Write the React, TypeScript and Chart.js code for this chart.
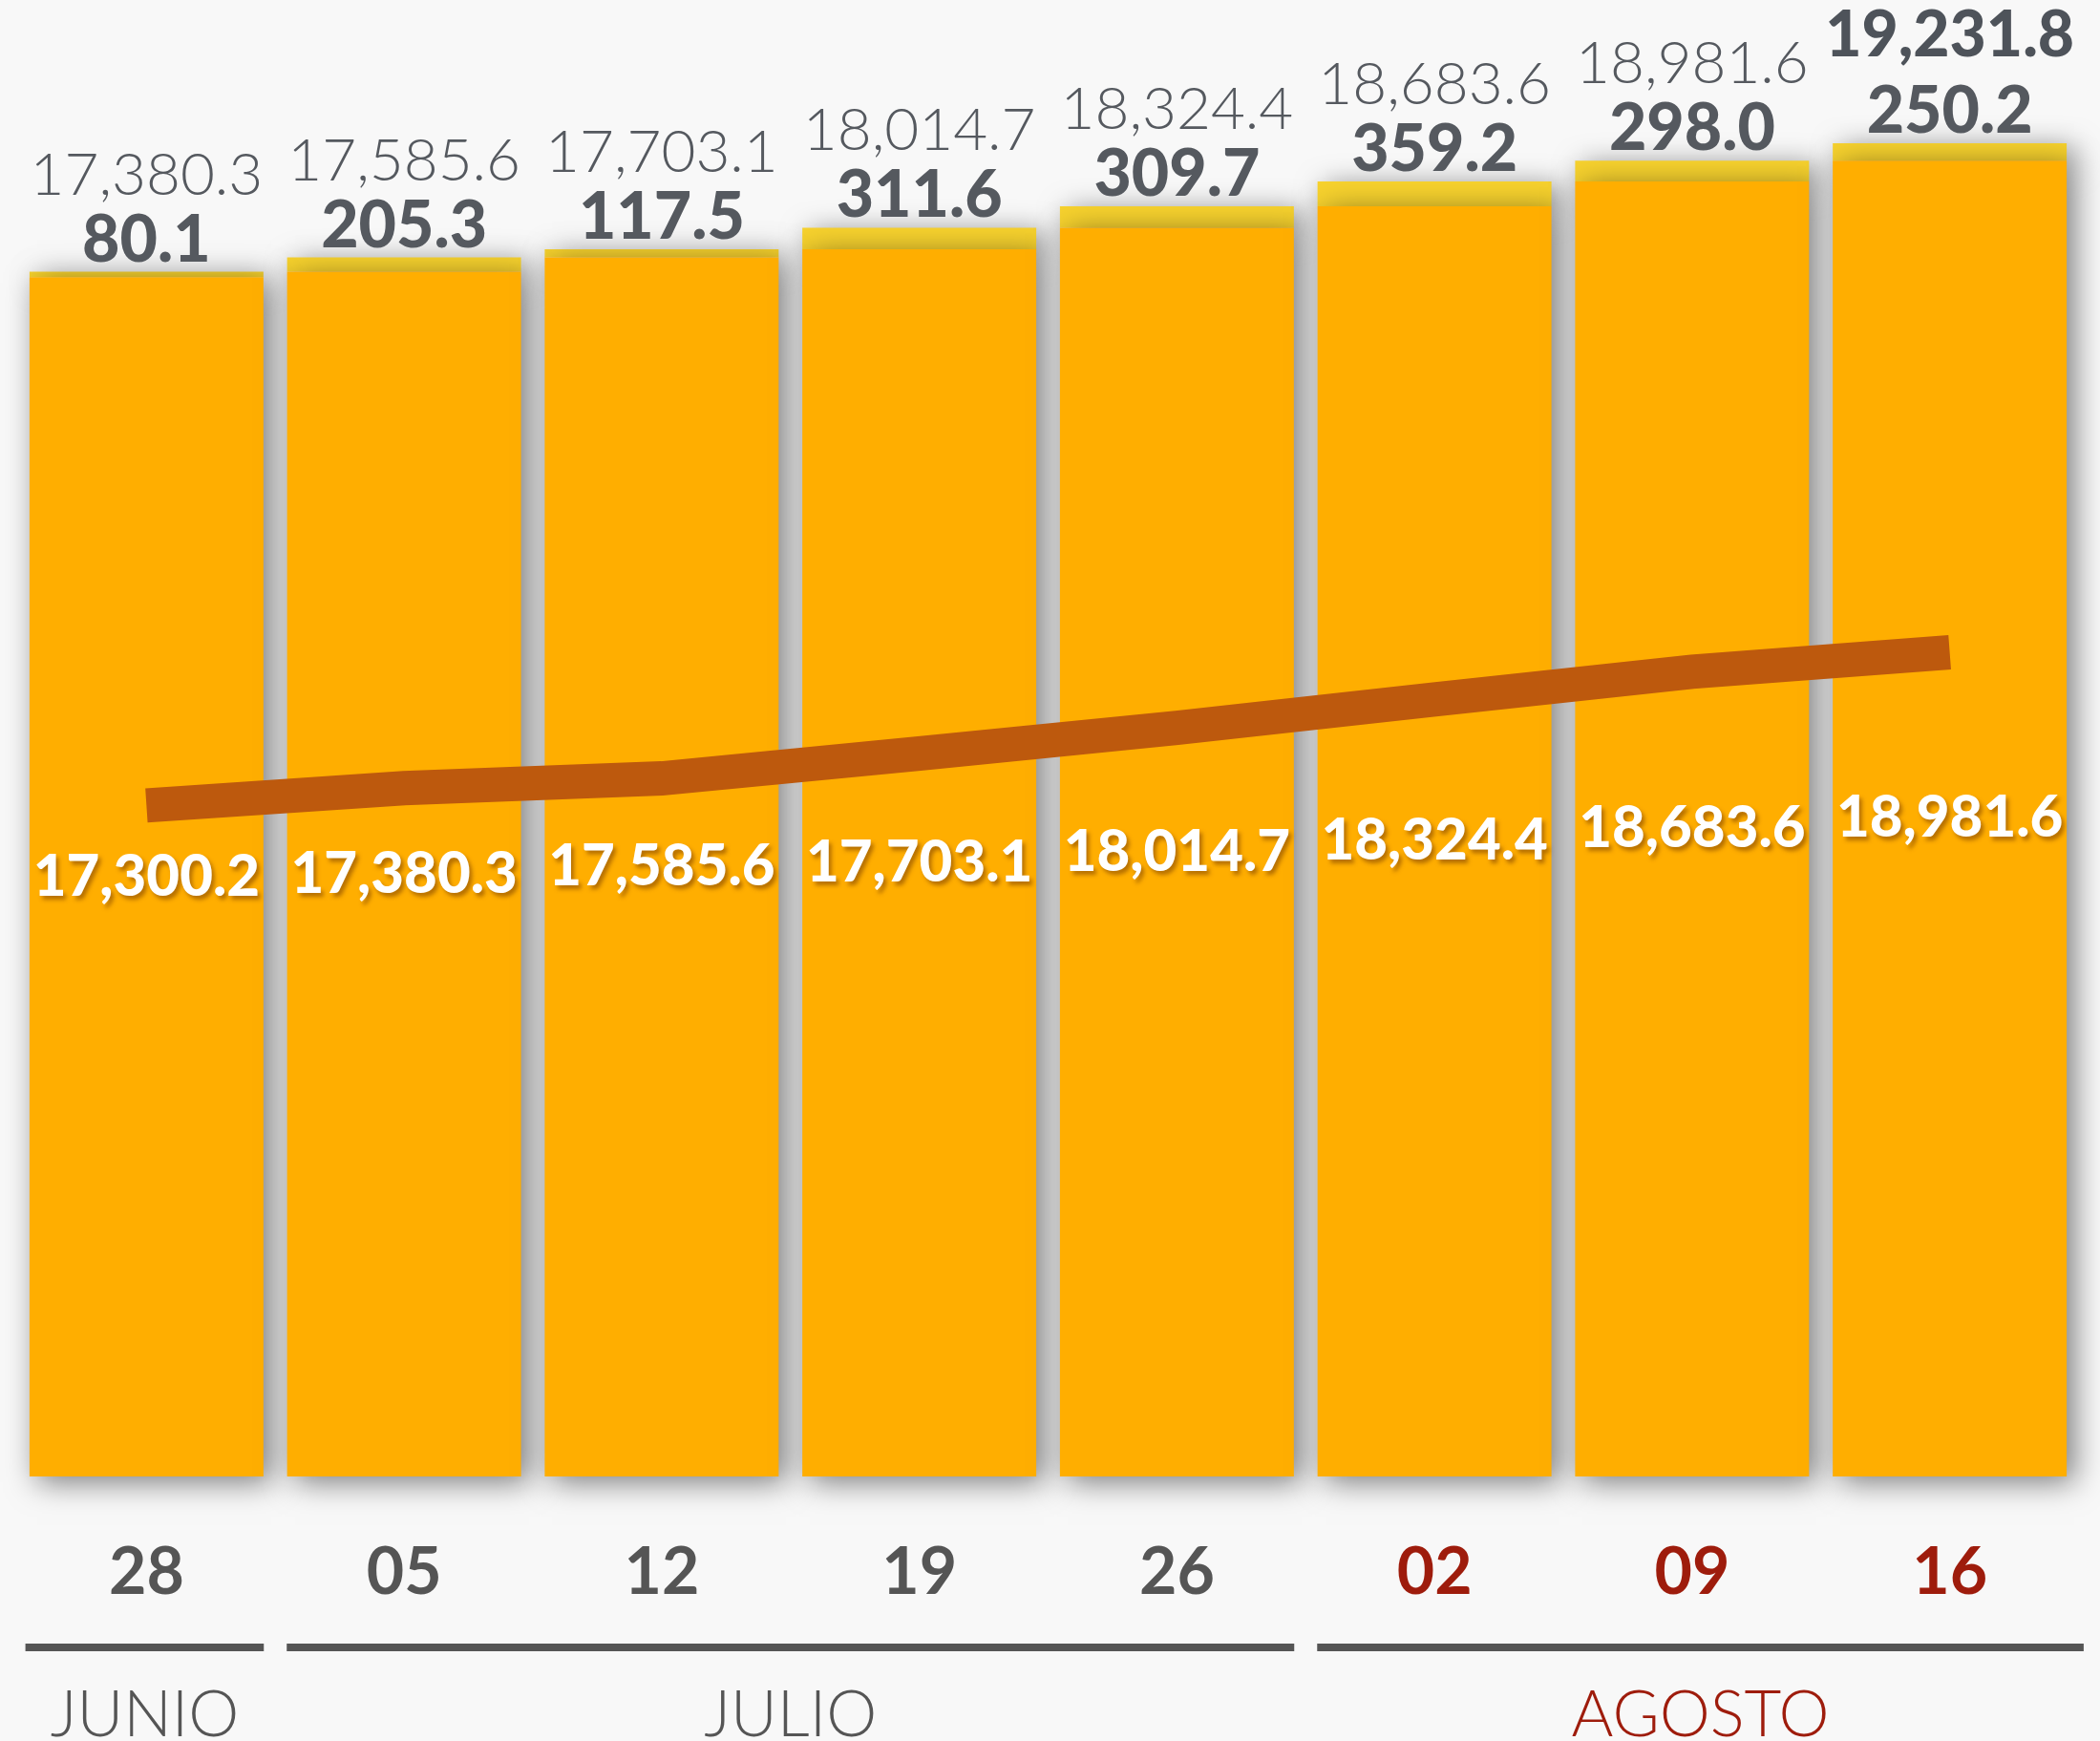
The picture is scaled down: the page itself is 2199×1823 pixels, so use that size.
import { useEffect, useRef } from 'react';
import { Chart, registerables } from 'chart.js';

Chart.register(...registerables);

// ---- data ----
const days = ['28', '05', '12', '19', '26', '02', '09', '16'];
const baseValues = [17300.2, 17380.3, 17585.6, 17703.1, 18014.7, 18324.4, 18683.6, 18981.6];
const increments = [80.1, 205.3, 117.5, 311.6, 309.7, 359.2, 298.0, 250.2];
const lineValues = [9680, 9930, 10070, 10430, 10800, 11210, 11610, 11890];
const months = ['JUNIO', 'JULIO', 'AGOSTO'];
const monthFirst = [0, 1, 5];
const monthLast = [0, 4, 7];
const highlightMonth = 2;

// ---- style ----
const W = 2199;
const H = 1823;
const BG = '#f8f8f8';
const GREY = '#55595f';
const DARK = '#4e535a';
const RED = '#9e1c0c';
const ORANGE = '#ffae00';
const CAP = '#f7d22e';
const LINE = '#bd590d';
const FONT = 'Lato, "Open Sans", sans-serif';

const fmt = (v: number) =>
  v.toLocaleString('en-US', { minimumFractionDigits: 1, maximumFractionDigits: 1 });

const bgPlugin = {
  id: 'bg',
  beforeDraw(chart: any) {
    const { ctx } = chart;
    ctx.save();
    ctx.fillStyle = BG;
    ctx.fillRect(0, 0, chart.width, chart.height);
    ctx.restore();
  },
};

const shadowPlugin = {
  id: 'barShadow',
  beforeDatasetDraw(chart: any, args: any) {
    if (args.meta.type !== 'bar') return;
    const ctx = chart.ctx;
    ctx.save();
    ctx.shadowColor = 'rgba(0,0,0,0.5)';
    ctx.shadowBlur = 30;
    ctx.shadowOffsetX = 8;
    ctx.shadowOffsetY = 6;
  },
  afterDatasetDraw(chart: any, args: any) {
    if (args.meta.type !== 'bar') return;
    chart.ctx.restore();
  },
};

const labelPlugin = {
  id: 'labels',
  afterDatasetsDraw(chart: any) {
    const ctx = chart.ctx;
    const baseMeta = chart.getDatasetMeta(0);
    const capMeta = chart.getDatasetMeta(1);
    ctx.save();
    ctx.textAlign = 'center';
    for (let i = 0; i < days.length; i++) {
      const b = baseMeta.data[i];
      const c = capMeta.data[i];
      // white base value in middle of the base bar
      ctx.save();
      ctx.font = `900 60px ${FONT}`;
      ctx.fillStyle = '#ffffff';
      ctx.textBaseline = 'middle';
      ctx.shadowColor = 'rgba(120,60,0,0.55)';
      ctx.shadowBlur = 4;
      ctx.shadowOffsetX = 3;
      ctx.shadowOffsetY = 4;
      ctx.fillText(fmt(baseValues[i]), b.x, (b.y + b.base) / 2);
      ctx.restore();

      // increment label above cap
      const incBase = c.y - 11;
      ctx.textBaseline = 'alphabetic';
      ctx.font = `900 68px ${FONT}`;
      ctx.fillStyle = GREY;
      ctx.fillText(fmt(increments[i]), c.x, incBase);

      // total label
      const total = baseValues[i] + increments[i];
      const last = i === days.length - 1;
      if (last) {
        ctx.font = `900 66px ${FONT}`;
        ctx.fillStyle = DARK;
        ctx.fillText(fmt(total), c.x, incBase - 80);
      } else {
        ctx.font = `300 62px ${FONT}`;
        ctx.fillStyle = GREY;
        ctx.fillText(fmt(total), c.x, incBase - 70);
      }
    }
    ctx.restore();
  },
};

const monthPlugin = {
  id: 'months',
  afterDraw(chart: any) {
    const ctx = chart.ctx;
    const xs = chart.scales.x;
    const step = xs.getPixelForValue(1) - xs.getPixelForValue(0);
    const gapHalf = 12;
    ctx.save();
    for (let m = 0; m < months.length; m++) {
      const pFirst = xs.getPixelForValue(monthFirst[m]);
      const pLast = xs.getPixelForValue(monthLast[m]);
      const start =
        m === 0
          ? pFirst - step * 0.47
          : (pFirst + xs.getPixelForValue(monthLast[m - 1])) / 2 + gapHalf;
      const end =
        m === months.length - 1
          ? pLast + step * 0.52
          : (pLast + xs.getPixelForValue(monthFirst[m + 1])) / 2 - gapHalf;
      ctx.fillStyle = '#555555';
      ctx.fillRect(start, 1721, end - start, 8);
      ctx.font = `300 67px ${FONT}`;
      ctx.textAlign = 'center';
      ctx.textBaseline = 'alphabetic';
      ctx.fillStyle = m === highlightMonth ? RED : '#555555';
      ctx.fillText(months[m], (start + end) / 2, 1818);
    }
    ctx.restore();
  },
};

export default function App() {
  const ref = useRef<HTMLCanvasElement | null>(null);

  useEffect(() => {
    document.body.style.margin = '0';
    document.body.style.background = BG;
    let chart: Chart | null = null;
    let cancelled = false;
    const build = () => {
      if (cancelled || !ref.current) return;
      chart = new Chart(ref.current, {
        type: 'bar',
        data: {
          labels: days,
          datasets: [
            {
              type: 'bar',
              label: 'base',
              data: baseValues,
              backgroundColor: ORANGE,
              borderWidth: 0,
              barPercentage: 0.908,
              categoryPercentage: 1,
              grouped: false,
              stack: 's',
              order: 1,
              clip: false as any,
            },
            {
              type: 'bar',
              label: 'increment',
              data: increments,
              backgroundColor: CAP,
              borderWidth: 0,
              barPercentage: 0.908,
              categoryPercentage: 1,
              grouped: false,
              stack: 's',
              order: 2,
              clip: false as any,
            },
            {
              type: 'line',
              label: 'trend',
              data: lineValues,
              yAxisID: 'yl',
              borderColor: LINE,
              borderWidth: 36,
              borderCapStyle: 'butt',
              borderJoinStyle: 'miter',
              pointRadius: 0,
              tension: 0,
              fill: false,
              order: 0,
            } as any,
          ],
        },
        options: {
          responsive: false,
          animation: false,
          devicePixelRatio: 1,
          layout: { padding: { left: 18.5, right: 22.5, top: 0, bottom: 0 } },
          plugins: { legend: { display: false }, tooltip: { enabled: false } },
          scales: {
            x: {
              stacked: true,
              grid: { display: false, drawTicks: false },
              border: { display: false },
              ticks: {
                padding: 60,
                font: { family: FONT, size: 68, weight: 'bold' as any },
                color: (c: any) => (c.index >= monthFirst[highlightMonth] ? RED : '#555555'),
              },
              afterFit: (s: any) => {
                s.height = 277;
              },
            },
            y: {
              stacked: true,
              display: false,
              min: 0,
              max: 21300,
            },
            yl: {
              display: false,
              min: 0,
              max: 21300,
            },
          },
        } as any,
        plugins: [bgPlugin, shadowPlugin, labelPlugin, monthPlugin],
      });
    };
    const fonts = (document as any).fonts;
    if (fonts && fonts.load) {
      Promise.all([
        fonts.load(`300 60px Lato`),
        fonts.load(`700 60px Lato`),
        fonts.load(`900 60px Lato`),
      ])
        .catch(() => null)
        .then(build);
    } else {
      build();
    }
    return () => {
      cancelled = true;
      if (chart) chart.destroy();
    };
  }, []);

  return (
    <div style={{ width: W, height: H, background: BG }}>
      <canvas ref={ref} width={W} height={H} style={{ display: 'block', width: W, height: H }} />
    </div>
  );
}
